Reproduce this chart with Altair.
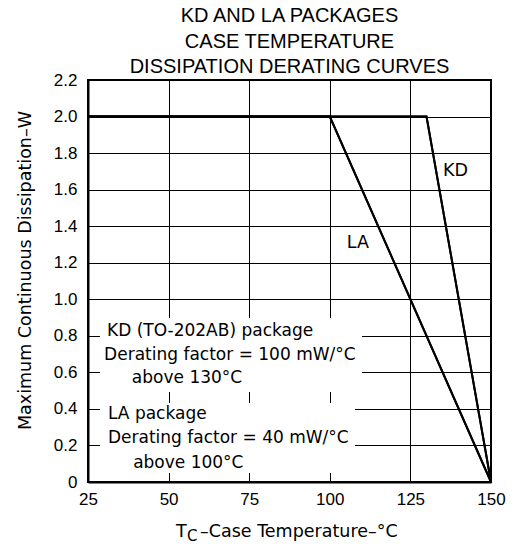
import altair as alt
import pandas as pd

# ---- data ----
kd_temp = [25, 130, 150]
kd_power = [2.0, 2.0, 0.0]
la_temp = [25, 100, 150]
la_power = [2.0, 2.0, 0.0]

x_ticks = [25, 50, 75, 100, 125, 150]
y_ticks = [0, 0.2, 0.4, 0.6, 0.8, 1.0, 1.2, 1.4, 1.6, 1.8, 2.0, 2.2]

curve_labels = ["KD", "LA"]
curve_label_t = [139.0, 108.7]
curve_label_p = [1.70, 1.31]

note_lines = [
    "KD (TO-202AB) package",
    "Derating factor = 100 mW/°C",
    "above  130°C",
    "LA package",
    "Derating factor = 40 mW/°C",
    "above 100°C",
]
note_t = [30.9, 30.0, 38.6, 31.2, 31.2, 39.0]
note_p = [0.826, 0.695, 0.569, 0.372, 0.241, 0.104]

# white boxes behind the two note blocks (they hide the grid in the reference)
box_t1 = [28.7, 28.7]
box_t2 = [110.0, 107.8]
box_p1 = [0.492, 0.049]
box_p2 = [0.897, 0.432]

title_lines = ["KD AND LA PACKAGES", "CASE TEMPERATURE", "DISSIPATION DERATING CURVES"]

# ---- tables ----
curves = pd.DataFrame(
    {"t": kd_temp + la_temp,
     "p": kd_power + la_power,
     "s": ["KD"] * len(kd_temp) + ["LA"] * len(la_temp)}
)
labels_df = pd.DataFrame({"t": curve_label_t, "p": curve_label_p, "txt": curve_labels})
notes_df = pd.DataFrame({"t": note_t, "p": note_p, "txt": note_lines})
boxes_df = pd.DataFrame({"t1": box_t1, "t2": box_t2, "p1": box_p1, "p2": box_p2})

FONT = "DejaVu Sans"
TICKFONT = "Liberation Sans"

xscale = alt.Scale(domain=[25, 150], nice=False, zero=False)
yscale = alt.Scale(domain=[0, 2.2], nice=False, zero=True)

xaxis = alt.Axis(values=x_ticks, title=None, grid=True, ticks=False,
                 labelPadding=9, labelFontSize=17, labelFont=TICKFONT,
                 labelColor="black", labelFlush=False, labelOverlap=False,
                 domainColor="black", domainWidth=2,
                 gridColor="black", gridWidth=1, gridOpacity=1)
yaxis = alt.Axis(values=y_ticks, title="Maximum Continuous Dissipation–W",
                 grid=True, ticks=False, labelPadding=11, labelFontSize=17,
                 labelFont=TICKFONT, labelColor="black",
                 labelFlush=False, labelOverlap=False,
                 labelExpr="datum.value == 0 ? '0' : format(datum.value, '.1f')",
                 domainColor="black", domainWidth=2,
                 gridColor="black", gridWidth=1, gridOpacity=1,
                 titleFont=FONT, titleFontSize=17.5, titleFontWeight="normal",
                 titleColor="black", titleAngle=270, titleAlign="center",
                 titleBaseline="middle", titleX=-63, titleY=190)


def X(field):
    return alt.X(field, type="quantitative", scale=xscale, axis=xaxis)


def Y(field):
    return alt.Y(field, type="quantitative", scale=yscale, axis=yaxis)


base_lines = alt.Chart(curves).mark_line(color="black", strokeWidth=2).encode(
    x=X("t"), y=Y("p"), detail="s:N",
)

boxes = alt.Chart(boxes_df).mark_rect(color="white", opacity=1).encode(
    x=X("t1"), x2="t2:Q", y=Y("p1"), y2="p2:Q",
)

curve_text = alt.Chart(labels_df).mark_text(
    font=FONT, fontSize=17.5, color="black", align="center", baseline="middle"
).encode(x=X("t"), y=Y("p"), text="txt:N")

note_text = alt.Chart(notes_df).mark_text(
    font=FONT, fontSize=17, color="black", align="left", baseline="middle"
).encode(x=X("t"), y=Y("p"), text="txt:N")

# x-axis title with subscript C
xt_T = alt.Chart(pd.DataFrame({"txt": ["T"]})).mark_text(
    font=FONT, fontSize=17.5, color="black", align="left", baseline="alphabetic"
).encode(x=alt.value(88), y=alt.value(457), text="txt:N")
xt_C = alt.Chart(pd.DataFrame({"txt": ["C"]})).mark_text(
    font=FONT, fontSize=15, color="black", align="left", baseline="alphabetic"
).encode(x=alt.value(99), y=alt.value(461), text="txt:N")
xt_rest = alt.Chart(pd.DataFrame({"txt": ["–Case Temperature–°C"]})).mark_text(
    font=FONT, fontSize=17.5, color="black", align="left", baseline="alphabetic"
).encode(x=alt.value(112), y=alt.value(457), text="txt:N")

chart = alt.layer(base_lines, boxes, base_lines, curve_text, note_text, xt_T, xt_C, xt_rest).properties(
    width=403,
    height=402,
    padding={"left": 80, "top": 72, "right": 17, "bottom": 62},
    autosize=alt.AutoSizeParams(type="none"),
    background="white",
    title=alt.TitleParams(
        text=title_lines, font=TICKFONT, fontSize=20, fontWeight="normal",
        color="black", anchor="middle", lineHeight=25.5, offset=-6,
    ),
).configure_view(stroke="black", strokeWidth=2)

chart.save("out.html", embed_options={"renderer": "svg", "actions": False})
